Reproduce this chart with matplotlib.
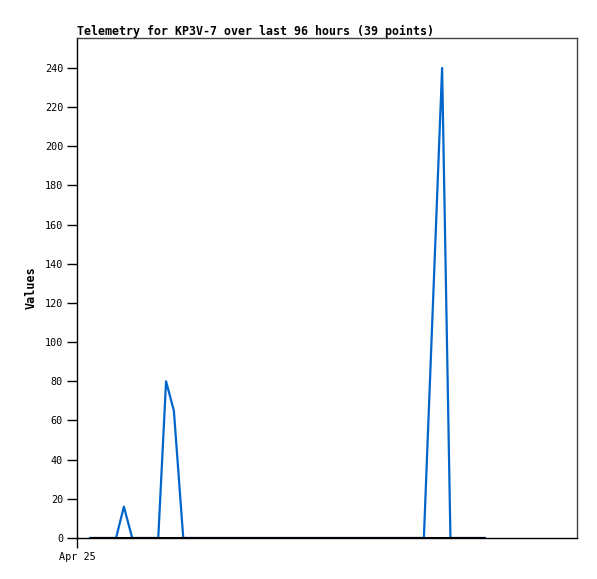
import matplotlib
matplotlib.use("Agg")
import matplotlib.pyplot as plt

# hours since Apr 25 00:00
times = [2.5, 4.0, 5.8, 7.5, 9.0, 10.6, 12.3, 13.8, 15.6, 17.1, 18.6, 20.4,
         22.4, 24.4, 26.4, 28.4, 30.4, 32.5, 34.5, 36.5, 38.5, 40.5, 42.5,
         44.5, 46.5, 48.5, 50.5, 52.5, 54.5, 56.6, 58.6, 60.6, 62.6, 64.6,
         66.6, 70.1, 71.7, 74.9, 78.3]
values = [0, 0, 0, 0, 16, 0, 0, 0, 0, 80, 65, 0,
          0, 0, 0, 0, 0, 0, 0, 0, 0, 0, 0,
          0, 0, 0, 0, 0, 0, 0, 0, 0, 0, 0,
          0, 240, 0, 0, 0]
yticks = list(range(0, 241, 20))
xtick_pos = [0]
xtick_labels = ["Apr 25"]
title = "Telemetry for KP3V-7 over last 96 hours (39 points)"

fig = plt.figure(figsize=(5.97, 5.79), dpi=100)
ax = fig.add_axes([77/597, 41/579, 500/597, 500/579])
ax.plot(times, values, color="#0066cc", lw=1.6, zorder=2)
ax.plot([times[0], times[-1]], [0, 0], color="black", lw=2.2, zorder=3,
        solid_capstyle="butt")
ax.set_xlim(0, 96)
ax.set_ylim(0, 255.3)
ax.set_yticks(yticks)
ax.set_yticklabels([str(v) for v in yticks], family="DejaVu Sans Mono", fontsize=7.3)
ax.set_xticks(xtick_pos)
ax.set_xticklabels(xtick_labels, family="DejaVu Sans Mono", fontsize=7.3)
ax.tick_params(direction="out", length=7, width=1, color="black", pad=3)
for s in ["left", "bottom"]:
    ax.spines[s].set_color("black")
    ax.spines[s].set_linewidth(1)
for s in ["top", "right"]:
    ax.spines[s].set_color("#444444")
    ax.spines[s].set_linewidth(1)
ax.set_ylabel("Values", family="DejaVu Sans Mono", fontweight="bold", fontsize=8.5, labelpad=5)
ax.set_title(title, loc="left", family="DejaVu Sans Mono", fontweight="bold", fontsize=8.4, pad=2)
fig.savefig("out.png", dpi=100)
